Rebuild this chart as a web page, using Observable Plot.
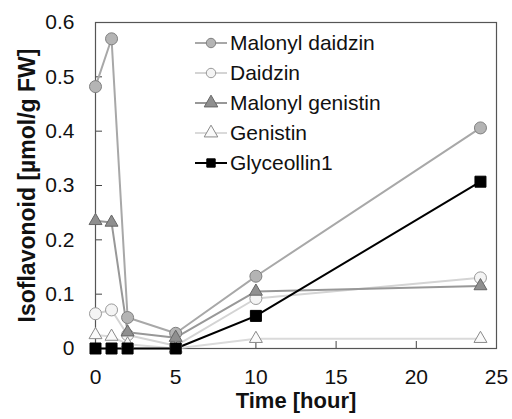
<!DOCTYPE html>
<html>
<head>
<meta charset="utf-8">
<script src="https://cdn.jsdelivr.net/npm/d3@7"></script>
<script src="https://cdn.jsdelivr.net/npm/@observablehq/plot@0.6"></script>
<style>
  html, body { margin: 0; padding: 0; background: #fff; }
  #wrap { position: relative; width: 512px; height: 419px; font-family: "Liberation Sans", Arial, sans-serif; }
  #legend { position: absolute; left: 195px; top: 28px; }
  .row { display: flex; align-items: center; height: 30px; font-size: 21px; color: #111; }
  .row svg { margin-right: 1px; }
</style>
</head>
<body>
<div id="wrap"></div>
<script>
const time = [0, 1, 2, 5, 10, 24];
const malonylDaidzin = [0.482, 0.570, 0.057, 0.028, 0.133, 0.406];
const daidzin = [0.064, 0.071, 0.025, 0.005, 0.092, 0.130];
const malonylGenistin = [0.235, 0.232, 0.030, 0.020, 0.105, 0.115];
const genistin = [0.025, 0.022, 0.008, 0.000, 0.018, 0.018];
const glyceollin1 = [0, 0, 0, 0, 0.060, 0.307];
const yTicks = [0, 0.1, 0.2, 0.3, 0.4, 0.5, 0.6];
const xTicks = [0, 5, 10, 15, 20, 25];

const series = [
  {name: "Malonyl daidzin", values: malonylDaidzin, symbol: "circle", line: "#a8a8a8", fill: "#b4b4b4", stroke: "#808080", r: 6},
  {name: "Daidzin", values: daidzin, symbol: "circle", line: "#d4d4d4", fill: "#f4f4f4", stroke: "#999", r: 6},
  {name: "Malonyl genistin", values: malonylGenistin, symbol: "triangle", line: "#989898", fill: "#8f8f8f", stroke: "#666", r: 4.8},
  {name: "Genistin", values: genistin, symbol: "triangle", line: "#dadada", fill: "#fafafa", stroke: "#8a8a8a", r: 4.8},
  {name: "Glyceollin1", values: glyceollin1, symbol: "square", line: "#000", fill: "#000", stroke: "#000", r: 6.2}
];

const marks = [];
for (const s of series) {
  const data = time.map((t, i) => ({t, v: s.values[i]}));
  marks.push(Plot.line(data, {x: "t", y: "v", stroke: s.line, strokeWidth: 2}));
}
for (const s of series) {
  const data = time.map((t, i) => ({t, v: s.values[i]}));
  marks.push(Plot.dot(data, {x: "t", y: "v", symbol: s.symbol, r: s.r, fill: s.fill, stroke: s.stroke, strokeWidth: 1}));
}

const fmt = d => d === 0 ? "0" : d3.format(".1f")(d);

const chart = Plot.plot({
  width: 512,
  height: 419,
  marginLeft: 95,
  marginRight: 16,
  marginTop: 22,
  marginBottom: 71,
  style: {fontFamily: "Liberation Sans, Arial, sans-serif", fontSize: "21px", color: "#111", background: "#fff", overflow: "visible"},
  x: {domain: [0, 25]},
  y: {domain: [0, 0.6]},
  marks: [
    Plot.axisX({ticks: xTicks, tickSize: 0, tickPadding: 21, tickFormat: d => String(d), label: null, fontSize: 21}),
    Plot.axisX({ticks: xTicks, tickSize: -7, text: null, label: null, stroke: "#444"}),
    Plot.axisY({ticks: yTicks, tickSize: 0, tickPadding: 21, tickFormat: fmt, label: null, fontSize: 21}),
    Plot.axisY({ticks: yTicks, tickSize: -7, text: null, label: null, stroke: "#444"}),
    Plot.frame({stroke: "#555", strokeWidth: 1.2}),
    ...marks,
    Plot.text(["Time [hour]"], {frameAnchor: "bottom", dy: 59, fontWeight: "bold", fontSize: 22}),
    Plot.text(["Isoflavonoid [\u00b5mol/g FW]"], {frameAnchor: "left", dx: -68, rotate: -90, textAnchor: "middle", fontWeight: "bold", fontSize: 23})
  ]
});

const wrap = document.getElementById("wrap");
wrap.appendChild(chart);

const legend = document.createElement("div");
legend.id = "legend";
for (const s of series) {
  const row = document.createElement("div");
  row.className = "row";
  const ns = "http://www.w3.org/2000/svg";
  const svg = document.createElementNS(ns, "svg");
  svg.setAttribute("width", "34");
  svg.setAttribute("height", "16");
  const ln = document.createElementNS(ns, "line");
  ln.setAttribute("x1", 0); ln.setAttribute("x2", 32); ln.setAttribute("y1", 8); ln.setAttribute("y2", 8);
  ln.setAttribute("stroke", s.line); ln.setAttribute("stroke-width", 2);
  svg.appendChild(ln);
  const sym = s.symbol === "circle" ? d3.symbolCircle : s.symbol === "triangle" ? d3.symbolTriangle : d3.symbolSquare;
  const p = document.createElementNS(ns, "path");
  p.setAttribute("d", d3.symbol(sym, s.symbol === "triangle" ? 80 : 70)());
  p.setAttribute("transform", "translate(16,8)");
  p.setAttribute("fill", s.fill); p.setAttribute("stroke", s.stroke);
  svg.appendChild(p);
  row.appendChild(svg);
  const t = document.createElement("span");
  t.textContent = s.name;
  row.appendChild(t);
  legend.appendChild(row);
}
wrap.appendChild(legend);
</script>
</body>
</html>
